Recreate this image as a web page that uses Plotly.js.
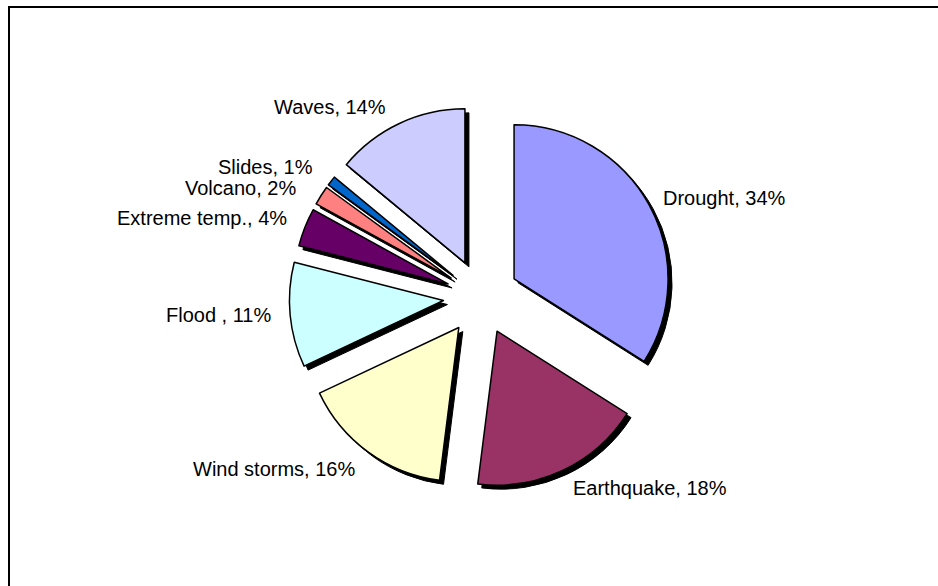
<!DOCTYPE html>
<html><head><meta charset="utf-8">
<script src="https://cdn.plot.ly/plotly-3.0.1.min.js"></script>
<style>
html,body{margin:0;padding:0;background:#fff;overflow:hidden}
#wrap{position:relative;width:938px;height:586px;overflow:hidden}
#chart{position:absolute;left:0;top:0;width:938px;height:586px}
#frame{position:absolute;left:8px;top:6px;width:1000px;height:700px;border-top:2.5px solid #000;border-left:2.5px solid #000;pointer-events:none}
</style>
</head><body><div id="wrap"><div id="chart"></div><div id="frame"></div></div>
<script>
// ---- data ----
const categories = ["Drought", "Earthquake", "Wind storms", "Flood ", "Extreme temp.", "Volcano", "Slides", "Waves"];
const values = [34, 18, 16, 11, 4, 2, 1, 14];

// ---- styles / layout ----
const colors = ["#9999FF", "#993366", "#FFFFCC", "#CCFFFF", "#660066", "#FF8080", "#0066CC", "#CCCCFF"];
const pulls = [0.245, 0.245, 0.245, 0.245, 0.23, 0.23, 0.23, 0.245];
const labelPx = [[724, 198], [650, 488], [274, 469], [218, 315], [202, 218], [241, 188], [265, 167], [330, 107]];

const W = 938, H = 586;
const cx = 481, cy = 297, r = 154;
const maxPull = Math.max(...pulls);
const half = r * (1 + maxPull);
function dom(dx, dy) {
  return {
    x: [(cx + dx - half) / W, (cx + dx + half) / W],
    y: [1 - (cy + dy + half) / H, 1 - (cy + dy - half) / H]
  };
}

const shadow = {
  type: 'pie', values: values, labels: categories, sort: false, direction: 'clockwise', rotation: 0,
  pull: pulls, domain: dom(4, 4), textinfo: 'none', hoverinfo: 'skip',
  marker: {colors: values.map(() => '#000000'), line: {color: '#000000', width: 1}},
  showlegend: false
};
const pie = {
  type: 'pie', values: values, labels: categories, sort: false, direction: 'clockwise', rotation: 0,
  pull: pulls, domain: dom(0, 0), textinfo: 'none', hoverinfo: 'label+percent',
  marker: {colors: colors, line: {color: '#000000', width: 1.5}},
  showlegend: false
};

const annotations = categories.map((c, i) => ({
  text: c + ', ' + values[i] + '%',
  xref: 'paper', yref: 'paper',
  x: labelPx[i][0] / W, y: 1 - labelPx[i][1] / H,
  xanchor: 'center', yanchor: 'middle', showarrow: false,
  font: {family: 'Liberation Sans, Arial, sans-serif', size: 20, color: '#000000'}
}));

const layout = {
  width: W, height: H,
  margin: {l: 0, r: 0, t: 0, b: 0},
  paper_bgcolor: '#ffffff',
  showlegend: false,
  annotations: annotations
};

Plotly.newPlot('chart', [shadow, pie], layout, {displayModeBar: false, staticPlot: true});
</script>
</body></html>
